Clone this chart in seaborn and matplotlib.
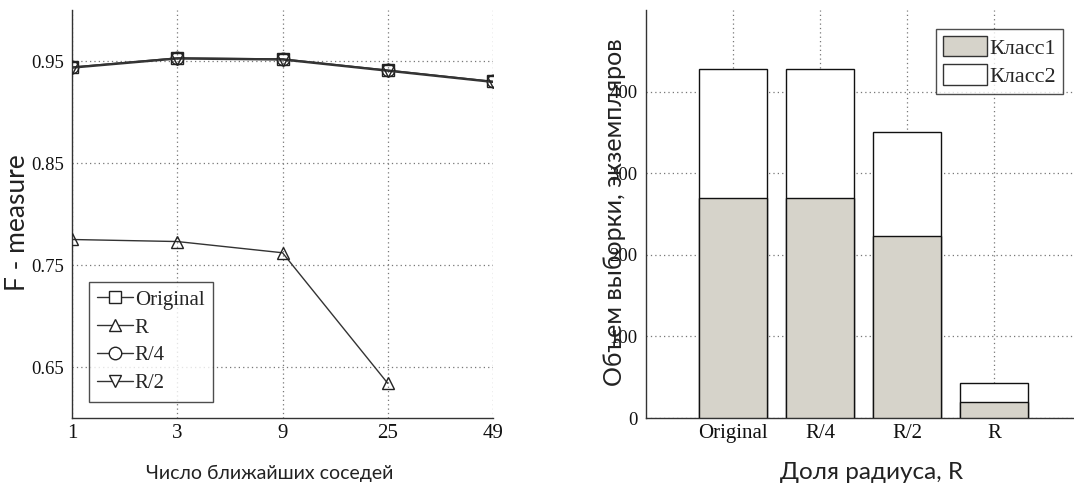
import numpy as np
import pandas as pd
import matplotlib
matplotlib.use("Agg")
import matplotlib.pyplot as plt
import seaborn as sns
from matplotlib.patches import Patch
from matplotlib.lines import Line2D

# Left panel: F-measure vs number of nearest neighbours
neighbours = ["1", "3", "9", "25", "49"]
f_original = [0.944, 0.953, 0.952, 0.941, 0.930]
f_r = [0.775, 0.773, 0.762, 0.634, np.nan]
f_r4 = [0.944, 0.953, 0.952, 0.941, 0.930]
f_r2 = [0.943, 0.952, 0.951, 0.940, 0.929]

# Right panel: sample sizes per radius share
radius_share = ["Original", "R/4", "R/2", "R"]
class1 = [269, 269, 223, 20]
class2 = [159, 159, 127, 23]

sns.set_theme(style="white")
plt.rcParams["font.family"] = ["Liberation Serif", "DejaVu Serif"]

sans = ["Lato", "Open Sans", "DejaVu Sans"]
label_color = "#222222"
tick_size = 13.5
bar_gray = "#d6d3ca"
grid_kw = dict(color="#777777", linestyle=(0, (1, 2.5)), linewidth=0.9)

fig = plt.figure(figsize=(10.74, 4.86), dpi=100)
ax1 = fig.add_axes([72 / 1074, 68 / 486, 421 / 1074, 408 / 486])
ax2 = fig.add_axes([646 / 1074, 68 / 486, 428 / 1074, 408 / 486])

# ---- line chart ----
pos = np.arange(len(neighbours))
series = [("Original", f_original, "s"), ("R", f_r, "^"),
          ("R/4", f_r4, "o"), ("R/2", f_r2, "v")]
line_color = "#333333"
for name, vals, mk in series:
    df = pd.DataFrame({"pos": pos, "val": vals}).dropna()
    sns.lineplot(data=df, x="pos", y="val", ax=ax1, color=line_color,
                 linewidth=1.0, marker=mk, markersize=9,
                 markerfacecolor="none", markeredgecolor="#222222",
                 markeredgewidth=1.0, zorder=3)

ax1.set_xlim(0, len(neighbours) - 1)
ax1.set_ylim(0.6, 1.0)
ax1.set_xticks(pos)
ax1.set_xticklabels(neighbours)
ax1.set_yticks([0.65, 0.75, 0.85, 0.95])
ax1.set_yticklabels(["0.65", "0.75", "0.85", "0.95"])
ax1.grid(True, **grid_kw)
ax1.set_axisbelow(True)
ax1.set_xlabel("Число ближайших соседей", family=sans, size=14, color=label_color)
ax1.set_ylabel("F - measure", family=sans, size=19, color=label_color)
ax1.xaxis.set_label_coords(0.47, -0.115)
ax1.yaxis.set_label_coords(-0.1, 0.48)

handles = [Line2D([0], [0], color=line_color, linewidth=1.0, marker=mk,
                  markersize=9, markerfacecolor="white",
                  markeredgecolor="#222222") for _, _, mk in series]
leg1 = ax1.legend(handles, [s[0] for s in series], loc="lower left",
                  bbox_to_anchor=(0.04, 0.04), fontsize=15,
                  frameon=True, fancybox=False, handlelength=1.7,
                  handletextpad=0.1, borderpad=0.4, labelspacing=0.4,
                  borderaxespad=0.0)
leg1.get_frame().set_edgecolor("#222222")
leg1.get_frame().set_linewidth(1.0)

# ---- stacked bar chart ----
totals = [a + b for a, b in zip(class1, class2)]
bars = pd.DataFrame({"share": radius_share, "total": totals, "class1": class1})
sns.barplot(data=bars, x="share", y="total", ax=ax2, color="white",
            edgecolor="#111111", linewidth=1.0, width=0.79, saturation=1,
            zorder=2)
sns.barplot(data=bars, x="share", y="class1", ax=ax2, color=bar_gray,
            edgecolor="#111111", linewidth=1.0, width=0.79, saturation=1,
            zorder=3)

# shift categories so that the first bar sits one slot from the left spine
for p in ax2.patches:
    p.set_x(p.get_x() + 1)
ax2.set_xticks(np.arange(1, len(radius_share) + 1))
ax2.set_xticklabels(radius_share)
ax2.set_xlim(0, 4.92)
ax2.set_ylim(0, 500)
ax2.set_yticks([0, 100, 200, 300, 400])
ax2.grid(True, **grid_kw)
ax2.set_axisbelow(True)
ax2.set_xlabel("Доля радиуса, R", family=sans, size=17.5, color=label_color)
ax2.set_ylabel("Объем выборки, экземпляров", family=sans, size=18,
               color=label_color)
ax2.xaxis.set_label_coords(0.526, -0.108)
ax2.yaxis.set_label_coords(-0.047, 0.505)

leg2 = ax2.legend([Patch(facecolor=bar_gray, edgecolor="#333333"),
                   Patch(facecolor="white", edgecolor="#333333")],
                  ["Класс1", "Класс2"], loc="upper right",
                  bbox_to_anchor=(0.974, 0.953), fontsize=16,
                  frameon=True, fancybox=False, handlelength=2.0,
                  handleheight=1.05, handletextpad=0.1, borderpad=0.3,
                  labelspacing=0.25, borderaxespad=0.0)
leg2.get_frame().set_edgecolor("#222222")
leg2.get_frame().set_linewidth(1.0)

for ax in (ax1, ax2):
    for side in ("top", "right"):
        ax.spines[side].set_visible(False)
    for side in ("left", "bottom"):
        ax.spines[side].set_color("#333333")
        ax.spines[side].set_linewidth(1.0)
    ax.tick_params(axis="both", length=0, labelsize=tick_size,
                   labelcolor="#111111", pad=6)
ax2.tick_params(axis="x", labelsize=15, pad=4)
ax1.tick_params(axis="x", labelsize=15, pad=4)

fig.savefig("out.png", dpi=100, facecolor="white")
